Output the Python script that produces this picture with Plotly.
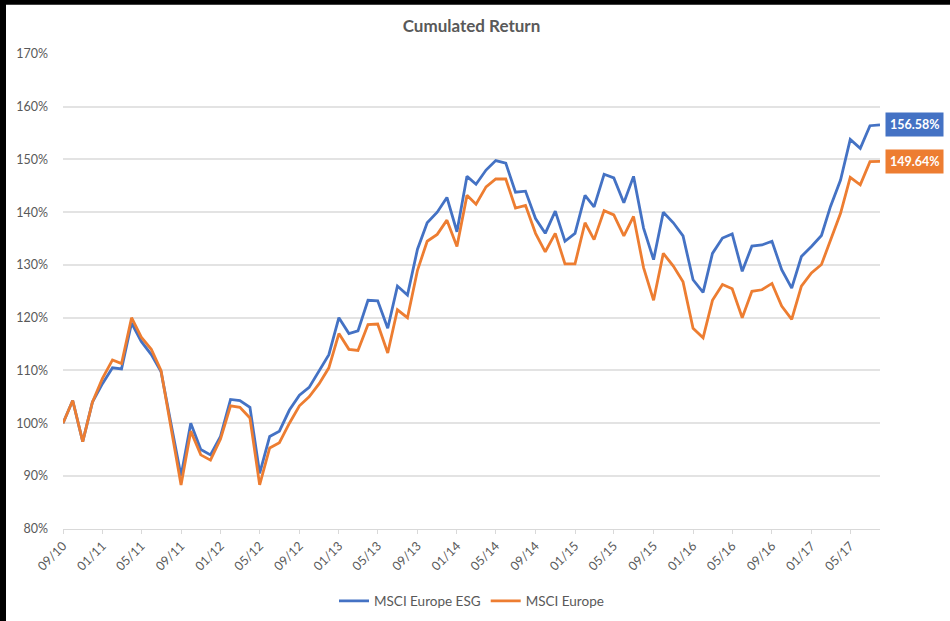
import pandas as pd
import plotly.graph_objects as go

# monthly points, 09/10 .. 08/17
dates = pd.date_range("2010-09-01", "2017-08-01", freq="MS")

esg = [100, 104.3, 96.5, 104, 107.5, 110.5, 110.3, 119, 115.5, 113, 109.8, 100,
       90, 100, 95, 94, 97.5, 104.5, 104.3, 103, 90.5, 97.5, 98.5, 102.5,
       105.3, 106.8, 110, 113, 120, 117, 117.5, 123.3, 123.2, 118, 126, 124.3,
       133, 138, 140, 142.8, 136.3, 146.8, 145.3, 148, 149.8, 149.3, 143.8, 144,
       138.8, 136, 140.2, 134.5, 136, 143.2, 141, 147.2, 146.5, 141.8, 146.8, 137,
       131, 140, 138, 135.5, 127.2, 124.8, 132.2, 135.1, 135.9, 128.8, 133.6, 133.8,
       134.5, 129.1, 125.6, 131.6, 133.5, 135.6, 141.1, 146.1, 153.8, 152.1, 156.4, 156.58]

europe = [100, 104.3, 96.5, 104, 108.5, 112, 111.3, 120, 116.3, 114, 110, 99,
          88.3, 98.5, 94, 93, 97, 103.3, 103, 101, 88.3, 95.3, 96.3, 100,
          103.3, 105, 107.5, 110.5, 117, 114, 113.8, 118.7, 118.8, 113.3, 121.5, 120,
          129, 134.5, 135.8, 138.5, 133.5, 143.2, 141.5, 144.8, 146.3, 146.3, 140.8, 141.3,
          136, 132.5, 136, 130.2, 130.2, 138, 134.8, 140.3, 139.5, 135.5, 139.2, 129.5,
          123.3, 132.2, 129.8, 126.8, 118, 116.2, 123.3, 126.3, 125.5, 120, 125, 125.3,
          126.5, 122.2, 119.7, 126, 128.5, 130.1, 134.8, 139.8, 146.6, 145.2, 149.6, 149.64]

blue = "#4472C4"
orange = "#ED7D31"
grey = "#595959"

fig = go.Figure()
fig.add_trace(go.Scatter(x=dates, y=[v / 100 for v in esg], mode="lines",
                         name="MSCI Europe ESG", line=dict(color=blue, width=2.8)))
fig.add_trace(go.Scatter(x=dates, y=[v / 100 for v in europe], mode="lines",
                         name="MSCI Europe", line=dict(color=orange, width=2.8)))

# end value labels
for vals, col in [(esg, blue), (europe, orange)]:
    fig.add_annotation(x=dates[-1], y=vals[-1] / 100, text="<b>%.2f%%</b>" % vals[-1],
                       showarrow=False, xanchor="left", xshift=5,
                       bgcolor=col, borderpad=4,
                       font=dict(color="white", size=12.5, family="Lato"))

# black frame on top/left like the screenshot
fig.add_shape(type="rect", xref="paper", yref="paper", x0=-70 / 817, x1=(960 - 63) / 817,
              y0=1 + 49.5 / 476.5, y1=1 + 70 / 476.5, fillcolor="black", line_width=0,
              layer="below")
fig.add_shape(type="rect", xref="paper", yref="paper", x0=-70 / 817, x1=-57 / 817,
              y0=-100 / 476.5, y1=1 + 70 / 476.5, fillcolor="black", line_width=0,
              layer="below")

fig.update_layout(
    width=950, height=621,
    margin=dict(l=63, r=70, t=53.5, b=91),
    paper_bgcolor="white", plot_bgcolor="white",
    title=dict(text="<b>Cumulated Return</b>", x=0.5, xref="paper", y=0.967,
               font=dict(size=17, color=grey, family="Lato")),
    font=dict(family="Lato", color=grey, size=12),
    legend=dict(orientation="h", x=0.5, xanchor="center", yref="container",
                y=20 / 621, yanchor="middle", font=dict(size=13.5, color=grey)),
    showlegend=True,
)
fig.update_xaxes(range=[dates[0], dates[-1]], tickformat="%m/%y", dtick="M4",
                 tick0="2010-09-01", tickangle=-45, showgrid=False,
                 showline=True, linecolor="#d9d9d9", linewidth=1,
                 ticks="outside", ticklen=4, tickcolor="#d9d9d9",
                 tickfont=dict(size=12.5, color=grey))
fig.update_yaxes(range=[0.8, 1.7], dtick=0.1, tickformat=".0%",
                 gridcolor="#e3e3e3", gridwidth=1.5, zeroline=False,
                 ticks="", ticklabelstandoff=14,
                 tickfont=dict(size=12.5, color=grey))

fig.write_html("out.html", config={"displayModeBar": False},
               post_script="document.body.style.margin='0';document.body.style.overflow='hidden';")
